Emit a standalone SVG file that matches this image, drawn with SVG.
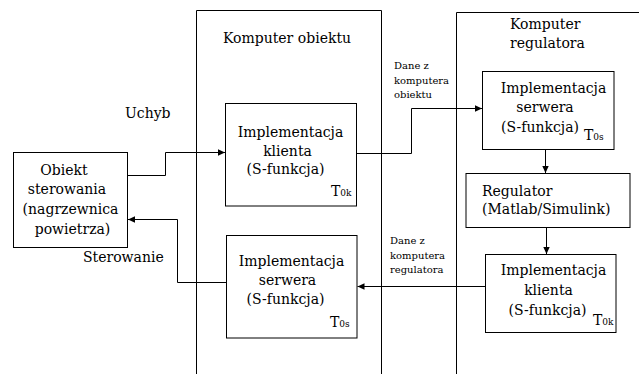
<svg xmlns="http://www.w3.org/2000/svg" width="639" height="374" viewBox="0 0 639 374">
  <style>
    .box { fill: #ffffff; stroke: #000000; stroke-width: 1; }
    .frame { fill: none; stroke: #000000; stroke-width: 1; }
    .wire { fill: none; stroke: #000000; stroke-width: 1; }
    text { font-family: "DejaVu Serif", "Liberation Serif", serif; fill: #000000; }
    .lbl { font-size: 14px; }
    .mid { text-anchor: middle; }
    .small { font-size: 10px; }
    .sub { font-size: 9px; }
  </style>
  <defs>
    <marker id="arrow" markerWidth="8" markerHeight="8" refX="7" refY="4" orient="auto" markerUnits="userSpaceOnUse">
      <path d="M0,0.8 L7,4 L0,7.2 Z" fill="#000000"/>
    </marker>
  </defs>

  <rect x="0" y="0" width="639" height="374" fill="#ffffff"/>

  <!-- computer frames (open towards the bottom / right) -->
  <g id="komputer-obiektu">
    <path class="frame" d="M196.5,374 V10.5 H381.5 V374"/>
    <text class="lbl mid" x="287" y="43">Komputer obiektu</text>
  </g>
  <g id="komputer-regulatora">
    <path class="frame" d="M456.5,374 V12.5 H639"/>
    <text class="lbl" x="510" y="29">Komputer</text>
    <text class="lbl" x="510" y="48">regulatora</text>
  </g>

  <!-- plant -->
  <g id="obiekt">
    <rect class="box" x="13.5" y="152.5" width="114" height="95"/>
    <text class="lbl mid" x="64" y="175">Obiekt</text>
    <text class="lbl mid" x="67" y="194">sterowania</text>
    <text class="lbl mid" x="70.5" y="214">(nagrzewnica</text>
    <text class="lbl mid" x="72.5" y="234">powietrza)</text>
  </g>

  <!-- object computer blocks -->
  <g id="klient-obiekt">
    <rect class="box" x="225.5" y="103.5" width="131" height="102.5"/>
    <text class="lbl mid" x="290.5" y="137">Implementacja</text>
    <text class="lbl mid" x="287.5" y="156">klienta</text>
    <text class="lbl mid" x="285.5" y="174">(S-funkcja)</text>
    <text class="lbl" x="331" y="196">T<tspan class="sub">0k</tspan></text>
  </g>
  <g id="serwer-obiekt">
    <rect class="box" x="226.5" y="235.5" width="130.5" height="102.5"/>
    <text class="lbl mid" x="291.5" y="266">Implementacja</text>
    <text class="lbl mid" x="287.5" y="285">serwera</text>
    <text class="lbl mid" x="285.5" y="304">(S-funkcja)</text>
    <text class="lbl" x="330" y="327">T<tspan class="sub">0s</tspan></text>
  </g>

  <!-- controller computer blocks -->
  <g id="serwer-regulator">
    <rect class="box" x="482.5" y="71.5" width="131.5" height="78"/>
    <text class="lbl mid" x="553.5" y="93">Implementacja</text>
    <text class="lbl mid" x="545" y="112">serwera</text>
    <text class="lbl mid" x="540" y="131.5">(S-funkcja)</text>
    <text class="lbl" x="584" y="140">T<tspan class="sub">0s</tspan></text>
  </g>
  <g id="regulator">
    <rect class="box" x="466" y="173.5" width="164" height="54"/>
    <text class="lbl" x="482" y="196">Regulator</text>
    <text class="lbl" x="482" y="214">(Matlab/Simulink)</text>
  </g>
  <g id="klient-regulator">
    <rect class="box" x="485.5" y="254.5" width="130.5" height="78"/>
    <text class="lbl mid" x="553.5" y="275">Implementacja</text>
    <text class="lbl mid" x="548.5" y="295">klienta</text>
    <text class="lbl mid" x="547.5" y="315">(S-funkcja)</text>
    <text class="lbl" x="593" y="325">T<tspan class="sub">0k</tspan></text>
  </g>

  <!-- signal connectors -->
  <g id="connectors">
    <path class="wire" d="M128,175.5 H165.5 V152.5 H225" marker-end="url(#arrow)"/>
    <path class="wire" d="M357,153.5 H411.5 V108.5 H482" marker-end="url(#arrow)"/>
    <path class="wire" d="M545.5,150 V173" marker-end="url(#arrow)"/>
    <path class="wire" d="M546.5,228 V254" marker-end="url(#arrow)"/>
    <path class="wire" d="M485,286.5 H357.5" marker-end="url(#arrow)"/>
    <path class="wire" d="M226.5,282.5 H177.5 V219.5 H128" marker-end="url(#arrow)"/>
  </g>

  <!-- connector labels -->
  <g id="labels">
    <text class="lbl" x="125" y="118">Uchyb</text>
    <text class="lbl" x="83" y="262">Sterowanie</text>
    <text class="small" x="394" y="68.5">Dane z</text>
    <text class="small" x="394" y="83.5">komputera</text>
    <text class="small" x="394" y="98">obiektu</text>
    <text class="small" x="390" y="243.5">Dane z</text>
    <text class="small" x="390" y="258.5">komputera</text>
    <text class="small" x="390" y="273">regulatora</text>
  </g>
</svg>
